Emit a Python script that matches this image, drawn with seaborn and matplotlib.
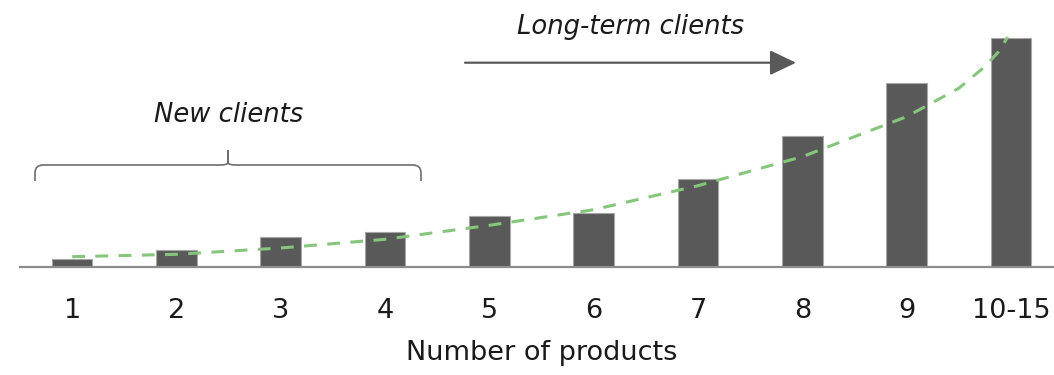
import matplotlib
matplotlib.use("Agg")
import matplotlib.pyplot as plt
from matplotlib.path import Path
from matplotlib.patches import PathPatch, FancyArrowPatch
from matplotlib.transforms import Affine2D
import seaborn as sns
import pandas as pd

# Clients by number of products held
categories = ["1", "2", "3", "4", "5", "6", "7", "8", "9", "10-15"]
clients = [7.7, 17.0, 29.7, 35.4, 51.0, 54.0, 88.4, 131.4, 184.4, 229.4]

# Growth trend curve (position along the category axis, value)
trend_pos = [0, 1, 2, 3, 4, 5, 6, 7, 8, 8.5, 8.75, 8.88, 8.97]
trend_val = [10.3, 12.7, 19.0, 27.7, 41.7, 57.3, 81.3, 110.3, 150.3,
             178.7, 200.3, 215.0, 230.0]

sns.set_theme(style="white")
plt.rcParams["font.family"] = ["DejaVu Sans"]

W, H = 1054, 375
fig = plt.figure(figsize=(W / 100, H / 100), dpi=100)
# axes in pixel terms: left 20, baseline at y=267, one value unit per pixel
ax = fig.add_axes([20 / W, (H - 267) / H, 1043 / W, 232 / H])

df = pd.DataFrame({"products": categories, "clients": clients})
sns.barplot(data=df, x="products", y="clients", order=categories,
            color="#595959", saturation=1, width=0.39,
            edgecolor="#a6a6a6", linewidth=0.8, ax=ax)

sns.lineplot(x=trend_pos, y=trend_val, color="#86c67c", linewidth=2.2,
             linestyle=(0, (4.2, 3.4)), dash_capstyle="butt",
             ax=ax, zorder=5)

ax.set_xlim(-0.5, 9.5)
ax.set_ylim(0, 232)
for s in ["top", "left", "right"]:
    ax.spines[s].set_visible(False)
ax.spines["bottom"].set_color("#8c8c8c")
ax.spines["bottom"].set_linewidth(1.6)
ax.set_yticks([])
ax.set_ylabel("")
ax.tick_params(axis="x", length=0, pad=22.5, labelsize=19.5,
               labelcolor="#1a1a1a")
ax.set_xlabel("Number of products", fontsize=19.5, color="#1a1a1a",
              labelpad=11)

# annotation layer in pixel coordinates (origin at top-left)
px = Affine2D().scale(1, -1).translate(0, H)

# brace over the first four categories
x0, x1, xm = 35, 421, 228
yb, yh, yt = 181, 165, 150
r = 8
verts = [
    (x0, yb), (x0, yh + r), (x0, yh), (x0 + r, yh),
    (xm - r, yh), (xm - 1, yh), (xm, yh - 2), (xm, yt),
    (xm, yh - 2), (xm + 1, yh), (xm + r, yh),
    (x1 - r, yh), (x1, yh), (x1, yh + r), (x1, yb),
]
codes = [Path.MOVETO, Path.LINETO, Path.CURVE3, Path.CURVE3,
         Path.LINETO, Path.CURVE3, Path.CURVE3, Path.LINETO,
         Path.LINETO, Path.CURVE3, Path.CURVE3,
         Path.LINETO, Path.CURVE3, Path.CURVE3, Path.LINETO]
brace = PathPatch(Path(verts, codes), facecolor="none", edgecolor="#6e6e6e",
                  linewidth=1.2, transform=px, clip_on=False)
fig.add_artist(brace)

fig.text(229, 115, "New clients", transform=px, ha="center", va="center",
         fontsize=18.6, style="italic", color="#1a1a1a")

arrow = FancyArrowPatch((465, 62.7), (796, 62.7), transform=px,
                        arrowstyle="-|>,head_length=1.15,head_width=0.55",
                        mutation_scale=14, color="#595959", linewidth=1.6,
                        shrinkA=0, shrinkB=0)
fig.add_artist(arrow)

fig.text(631, 27, "Long-term clients", transform=px, ha="center",
         va="center", fontsize=18.6, style="italic", color="#1a1a1a")

fig.savefig("out.png", dpi=100)
